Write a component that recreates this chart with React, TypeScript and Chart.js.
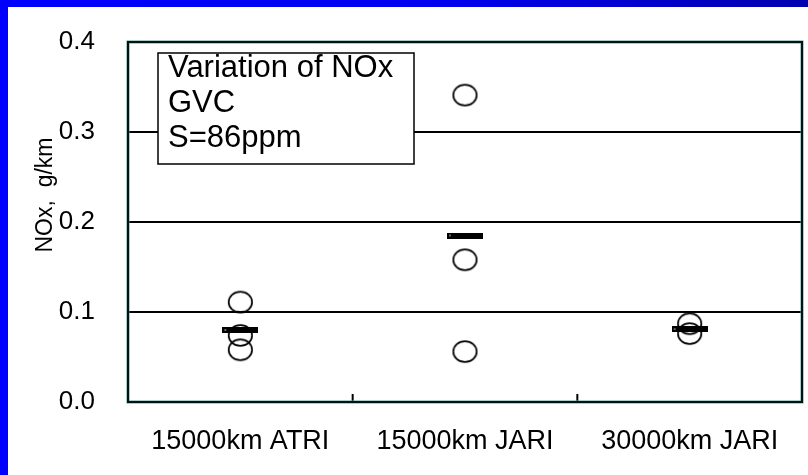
import React, { useEffect, useRef } from "react";
import { Chart, registerables } from "chart.js";

Chart.register(...registerables);

const categories = ["15000km ATRI", "15000km JARI", "30000km JARI"];
const obsATRI15 = [0.111, 0.074, 0.058];
const obsJARI15 = [0.341, 0.158, 0.056];
const obsJARI30 = [0.087, 0.076];
const means = [0.080, 0.185, 0.081];
const yTicks = [0, 0.1, 0.2, 0.3, 0.4];
const boxLines = ["Variation of NOx", "GVC", "S=86ppm"];
const yTitle = "NOx,  g/km";

const FONT = '"Liberation Sans", Arial, sans-serif';

function makeEllipse(): HTMLCanvasElement {
  const c = document.createElement("canvas");
  c.width = 27;
  c.height = 25;
  const g = c.getContext("2d")!;
  g.strokeStyle = "#000";
  g.lineWidth = 1.7;
  g.beginPath();
  g.ellipse(13.5, 12.5, 11.7, 10.4, 0, 0, Math.PI * 2);
  g.stroke();
  return c;
}

function makeBar(): HTMLCanvasElement {
  const c = document.createElement("canvas");
  c.width = 36;
  c.height = 6;
  const g = c.getContext("2d")!;
  g.fillStyle = "#000";
  g.fillRect(0, 0, 36, 6);
  g.fillStyle = "rgba(255,255,255,0.8)";
  g.fillRect(2, 2.5, 2, 1);
  return c;
}

const decor = {
  id: "decor",
  beforeDatasetsDraw(chart: any) {
    const { ctx, chartArea: ca } = chart;
    const x = ca.left + 30;
    const y = ca.top + 11;
    ctx.save();
    ctx.fillStyle = "#fff";
    ctx.fillRect(x, y, 256, 111);
    ctx.strokeStyle = "#000";
    ctx.lineWidth = 1.5;
    ctx.strokeRect(x, y, 256, 111);
    ctx.fillStyle = "#000";
    ctx.font = `31px ${FONT}`;
    ctx.textAlign = "left";
    ctx.textBaseline = "alphabetic";
    boxLines.forEach((t, i) => ctx.fillText(t, x + 10, y + 24 + i * 35));
    ctx.restore();
  },
  afterDraw(chart: any) {
    const { ctx, chartArea: ca } = chart;
    const xs = chart.scales.x;
    ctx.save();
    ctx.strokeStyle = "#000";
    ctx.lineWidth = 2;
    for (let i = 1; i < categories.length; i++) {
      const px = (xs.getPixelForTick(i - 1) + xs.getPixelForTick(i)) / 2;
      ctx.beginPath();
      ctx.moveTo(px, ca.bottom);
      ctx.lineTo(px, ca.bottom - 8);
      ctx.stroke();
    }
    ctx.strokeStyle = "#5a9a9a";
    ctx.lineWidth = 3;
    ctx.strokeRect(ca.left, ca.top, ca.right - ca.left, ca.bottom - ca.top);
    ctx.strokeStyle = "#001414";
    ctx.lineWidth = 2;
    ctx.strokeRect(ca.left, ca.top, ca.right - ca.left, ca.bottom - ca.top);
    ctx.translate(44, (ca.top + ca.bottom) / 2 - 27);
    ctx.rotate(-Math.PI / 2);
    ctx.fillStyle = "#000";
    ctx.font = `23px ${FONT}`;
    ctx.textAlign = "center";
    ctx.textBaseline = "alphabetic";
    ctx.fillText(yTitle, 0, 0);
    ctx.restore();
  },
};

export default function App() {
  const ref = useRef<HTMLCanvasElement>(null);
  useEffect(() => {
    const ellipse = makeEllipse();
    const bar = makeBar();
    const obs = [obsATRI15, obsJARI15, obsJARI30];
    const obsData: { x: string; y: number }[] = [];
    obs.forEach((arr, i) => arr.forEach((v) => obsData.push({ x: categories[i], y: v })));
    const meanData = means.map((v, i) => ({ x: categories[i], y: v }));
    const chart = new Chart(ref.current!, {
      type: "line",
      data: {
        labels: categories,
        datasets: [
          {
            data: meanData as any,
            showLine: false,
            pointStyle: bar as any,
            pointRadius: 18,
            pointHoverRadius: 18,
            clip: false as any,
          },
          {
            data: obsData as any,
            showLine: false,
            pointStyle: ellipse as any,
            pointRadius: 12,
            pointHoverRadius: 12,
            clip: false as any,
          },
        ],
      },
      options: {
        animation: false,
        responsive: false,
        devicePixelRatio: 1,
        layout: { autoPadding: false, padding: { top: 35, right: 6, left: 0, bottom: 0 } } as any,
        plugins: { legend: { display: false }, tooltip: { enabled: false } },
        events: [],
        scales: {
          x: {
            type: "category",
            offset: true,
            grid: { display: false, drawTicks: false },
            border: { display: false },
            ticks: {
              color: "#000",
              padding: 23,
              maxRotation: 0,
              autoSkip: false,
              font: { family: FONT, size: 27 },
            },
            afterFit: (s: any) => {
              s.height = 73;
              s.paddingLeft = 0;
              s.paddingRight = 0;
            },
          },
          y: {
            min: 0,
            max: 0.4,
            afterBuildTicks: (s: any) => {
              s.ticks = yTicks.map((v) => ({ value: v }));
            },
            grid: { color: "#000", lineWidth: 2, drawTicks: false },
            border: { display: false },
            ticks: {
              color: "#000",
              padding: 33,
              font: { family: FONT, size: 26 },
              callback: (v: any) => Number(v).toFixed(1),
            },
            afterFit: (s: any) => {
              s.width = 120;
              s.paddingTop = 0;
              s.paddingBottom = 0;
            },
          },
        },
      },
      plugins: [decor],
    });
    return () => chart.destroy();
  }, []);
  return (
    <div style={{ position: "absolute", left: 0, top: 0, width: 808, height: 475, background: "#fff", overflow: "hidden" }}>
      <div style={{ position: "absolute", left: 0, top: 0, width: 808, height: 7, background: "linear-gradient(to right, #0000ff, #0000f0 55%, #0000b0)" }} />
      <div style={{ position: "absolute", left: 0, top: 0, width: 8, height: 475, background: "#0000ff" }} />
      <canvas ref={ref} width={800} height={468} style={{ position: "absolute", left: 8, top: 7, width: 800, height: 468, display: "block" }} />
    </div>
  );
}
